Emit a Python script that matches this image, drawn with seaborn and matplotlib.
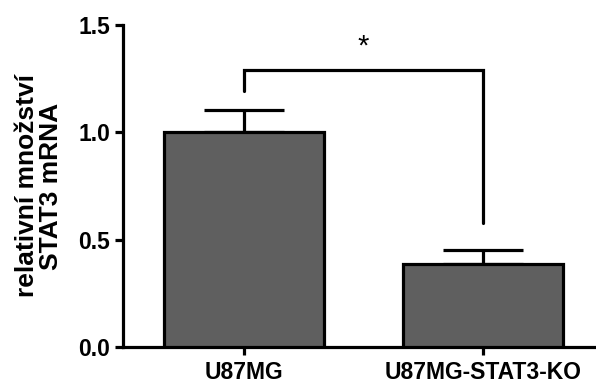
import pandas as pd
import numpy as np
import matplotlib as mpl
mpl.use("Agg")
import matplotlib.pyplot as plt
import seaborn as sns

groups = ["U87MG", "U87MG-STAT3-KO"]
means = [1.0, 0.387]
errs = [0.104, 0.065]
bracket_y = 1.29
bracket_left_end = 1.19
bracket_right_end = 0.578

sns.set_style("ticks", {"axes.edgecolor": "black", "text.color": "black",
                        "xtick.color": "black", "ytick.color": "black",
                        "axes.labelcolor": "black"})
plt.rcParams['font.family'] = ['Liberation Sans', 'DejaVu Sans']
plt.rcParams['font.weight'] = 'bold'

df = pd.DataFrame({"group": groups, "value": means})

fig = plt.figure(figsize=(5.96, 3.83), dpi=100)
ax = fig.add_axes([0.206, 0.094, 0.794, 0.841])

sns.barplot(data=df, x="group", y="value", color="#5f5f5f", width=0.67,
            edgecolor="black", linewidth=2.3, saturation=1, errorbar=None, ax=ax)
for p in ax.patches:
    p.set_facecolor("#5f5f5f")
    p.set_zorder(3)

x = np.arange(len(groups))
ax.errorbar(x, means, yerr=[[0] * len(errs), errs], fmt="none", ecolor="black",
            elinewidth=2.3, capsize=28.5, capthick=2.3, zorder=2)

# significance bracket
ax.plot([x[0], x[0], x[1], x[1]],
        [bracket_left_end, bracket_y, bracket_y, bracket_right_end],
        color="black", lw=2.3, solid_joinstyle="miter", zorder=4)
ax.text((x[0] + x[1]) / 2, bracket_y + 0.045, "*", ha="center", va="bottom",
        fontsize=21, fontweight="normal", color="black")

ax.set_xlim(-0.506, 1.473)
ax.set_ylim(0, 1.5)
ax.set_yticks([0.0, 0.5, 1.0, 1.5])
ax.set_yticklabels(["0.0", "0.5", "1.0", "1.5"])
ax.set_xlabel("")
ax.set_ylabel("relativní množství\nSTAT3 mRNA", fontsize=19, fontweight="bold",
              labelpad=11, linespacing=1.0, color="black")
ax.tick_params(axis="both", width=2.3, length=6, labelsize=16.5, colors="black")
ax.tick_params(axis="y", pad=3)
ax.tick_params(axis="x", pad=4)
for lab in ax.get_xticklabels() + ax.get_yticklabels():
    lab.set_fontweight("bold")
for s in ["left", "bottom"]:
    ax.spines[s].set_linewidth(2.3)
    ax.spines[s].set_color("black")
sns.despine(ax=ax)

fig.savefig("out.png", dpi=100)
